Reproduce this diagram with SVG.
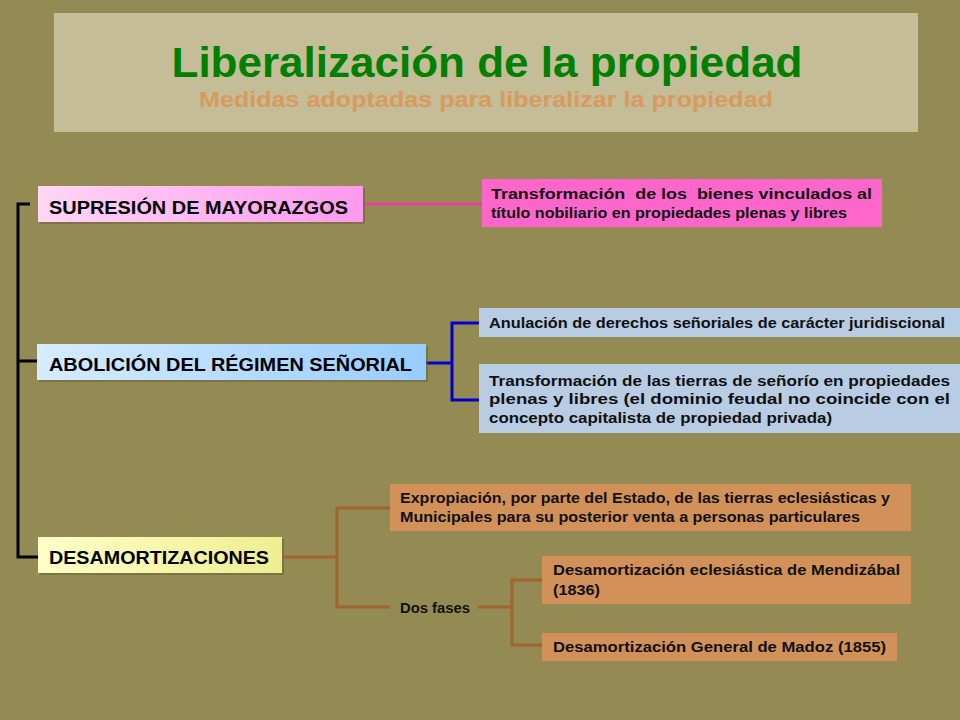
<svg xmlns="http://www.w3.org/2000/svg" width="960" height="720" viewBox="0 0 960 720">
<defs>
<linearGradient id="gPink" x1="0" y1="0" x2="1" y2="0"><stop offset="0" stop-color="#FFD6F6"/><stop offset="1" stop-color="#FF99EE"/></linearGradient>
<linearGradient id="gBlue" x1="0" y1="0" x2="1" y2="0"><stop offset="0" stop-color="#D6ECFF"/><stop offset="1" stop-color="#99CCFF"/></linearGradient>
<linearGradient id="gYel" x1="0" y1="0" x2="1" y2="0"><stop offset="0" stop-color="#FFFFC8"/><stop offset="1" stop-color="#EEEE90"/></linearGradient>
<style>
text{font-family:"Liberation Sans","DejaVu Sans",sans-serif;font-weight:bold;}
.main{font-size:18px;fill:#000;}
.sm{font-size:14px;fill:#111;}
.shadow{fill:#6E663E;opacity:0.6;}
.k{stroke:#000;stroke-width:3;fill:none;}
.p{stroke:#E8409C;stroke-width:3;fill:none;}
.b{stroke:#0000CC;stroke-width:3;fill:none;}
.br{stroke:#A0642E;stroke-width:3;fill:none;}
</style>
</defs>
<rect x="0" y="0" width="960" height="720" fill="#948A54"/>
<g id="title">
<rect x="54" y="13" width="864" height="119" fill="#C4BD97"/>
<text x="487" y="77" text-anchor="middle" font-size="43" fill="#008000" textLength="631" lengthAdjust="spacingAndGlyphs">Liberalización de la propiedad</text>
<text x="486" y="107" text-anchor="middle" font-size="22" fill="#D99A5E" textLength="574" lengthAdjust="spacingAndGlyphs">Medidas adoptadas para liberalizar la propiedad</text>
</g>
<g id="connectors">
<path class="k" d="M30,204 H18 V557 H38"/>
<path class="k" d="M18,361 H37"/>
<path class="p" d="M363,204 H482"/>
<path class="b" d="M426,363 H452 M479,323 H452 V400 H479"/>
<path class="br" d="M283,557 H337 M390,508 H337 V607 H390"/>
<path class="br" d="M478,607 H512 M542,580 H512 V645 H542"/>
</g>
<g id="n-supresion">
<rect class="shadow" x="40" y="188" width="325" height="36"/>
<rect x="38" y="186" width="325" height="36" fill="url(#gPink)"/>
<text class="main" x="49" y="214" textLength="299" lengthAdjust="spacingAndGlyphs">SUPRESIÓN DE MAYORAZGOS</text>
</g>
<g id="n-transformacion-bienes">
<rect x="482" y="179" width="400" height="48" fill="#FF66CC"/>
<text class="sm" x="491" y="199" xml:space="preserve" textLength="381" lengthAdjust="spacingAndGlyphs">Transformación  de los  bienes vinculados al</text>
<text class="sm" x="491" y="218" textLength="356" lengthAdjust="spacingAndGlyphs">título nobiliario en propiedades plenas y libres</text>
</g>
<g id="n-abolicion">
<rect class="shadow" x="39" y="346" width="389" height="36"/>
<rect x="37" y="344" width="389" height="36" fill="url(#gBlue)"/>
<text class="main" x="49" y="371" textLength="363" lengthAdjust="spacingAndGlyphs">ABOLICIÓN DEL RÉGIMEN SEÑORIAL</text>
</g>
<g id="n-anulacion">
<rect x="479" y="308" width="481" height="29" fill="#B8CCE4"/>
<text class="sm" x="489" y="328" textLength="456" lengthAdjust="spacingAndGlyphs">Anulación de derechos señoriales de carácter juridiscional</text>
</g>
<g id="n-transformacion-tierras">
<rect x="479" y="364" width="481" height="69" fill="#B8CCE4"/>
<text class="sm" x="489" y="386" textLength="461" lengthAdjust="spacingAndGlyphs">Transformación de las tierras de señorío en propiedades</text>
<text class="sm" x="489" y="404" textLength="461" lengthAdjust="spacingAndGlyphs">plenas y libres (el dominio feudal no coincide con el</text>
<text class="sm" x="489" y="423" textLength="343" lengthAdjust="spacingAndGlyphs">concepto capitalista de propiedad privada)</text>
</g>
<g id="n-desamortizaciones">
<rect class="shadow" x="40" y="539" width="244" height="36"/>
<rect x="38" y="537" width="244" height="36" fill="url(#gYel)"/>
<text class="main" x="49" y="564" textLength="220" lengthAdjust="spacingAndGlyphs">DESAMORTIZACIONES</text>
</g>
<g id="n-expropiacion">
<rect x="390" y="484" width="521" height="47" fill="#D29158"/>
<text class="sm" x="400" y="503" textLength="490" lengthAdjust="spacingAndGlyphs">Expropiación, por parte del Estado, de las tierras eclesiásticas y</text>
<text class="sm" x="400" y="522" textLength="460" lengthAdjust="spacingAndGlyphs">Municipales para su posterior venta a personas particulares</text>
</g>
<g id="n-dos-fases">
<text class="sm" x="400" y="613" textLength="70" lengthAdjust="spacingAndGlyphs">Dos fases</text>
</g>
<g id="n-mendizabal">
<rect x="542" y="556" width="369" height="48" fill="#D29158"/>
<text class="sm" x="553" y="575" textLength="347" lengthAdjust="spacingAndGlyphs">Desamortización eclesiástica de Mendizábal</text>
<text class="sm" x="553" y="595" textLength="47" lengthAdjust="spacingAndGlyphs">(1836)</text>
</g>
<g id="n-madoz">
<rect x="542" y="633" width="355" height="28" fill="#D29158"/>
<text class="sm" x="553" y="652" textLength="333" lengthAdjust="spacingAndGlyphs">Desamortización General de Madoz (1855)</text>
</g>
</svg>
